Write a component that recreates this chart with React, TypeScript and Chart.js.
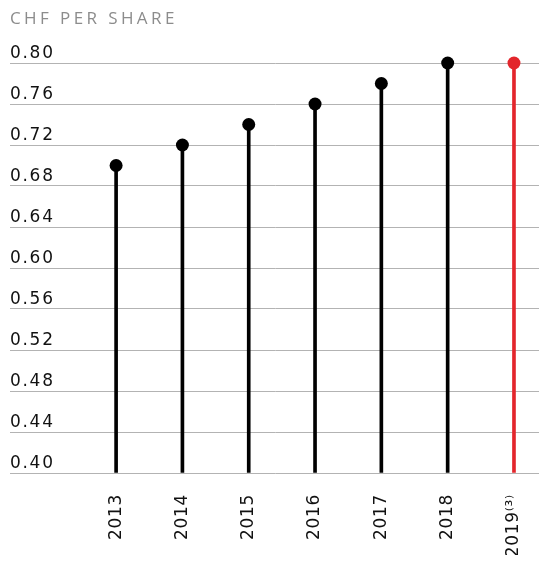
import React, { useEffect, useRef } from "react";
import { Chart, registerables } from "chart.js";

Chart.register(...registerables);

const years = ["2013", "2014", "2015", "2016", "2017", "2018", "2019⁽³⁾"];
const dividends = [0.70, 0.72, 0.74, 0.76, 0.78, 0.80, 0.80];
const yTicks = [0.40, 0.44, 0.48, 0.52, 0.56, 0.60, 0.64, 0.68, 0.72, 0.76, 0.80];
const highlighted = [false, false, false, false, false, false, true];
const titleText = "CHF PER SHARE";

const BLACK = "#000000";
const RED = "#e3262c";
const TITLE_FONT = "'Open Sans', 'DejaVu Sans', sans-serif";
const FONT = "'DejaVu Sans', 'Open Sans', sans-serif";

export default function App() {
  const ref = useRef<HTMLCanvasElement>(null);

  useEffect(() => {
    const canvas = ref.current;
    if (!canvas) return;
    const idx = years.map((_, i) => i);
    const colors = highlighted.map((h) => (h ? RED : BLACK));
    const spacing = {
      id: "letterSpacing",
      beforeLayout(c: any) {
        c.ctx.letterSpacing = "0.7px";
      },
      beforeDraw(c: any) {
        c.ctx.letterSpacing = "0.7px";
      },
      afterDraw(c: any) {
        const s = c.scales.y;
        const ctx = c.ctx;
        ctx.save();
        ctx.letterSpacing = "1.7px";
        ctx.font = `17px ${FONT}`;
        ctx.fillStyle = "#111111";
        ctx.textAlign = "left";
        ctx.textBaseline = "alphabetic";
        s.ticks.forEach((t: any) => {
          ctx.fillText(Number(t.value).toFixed(2), c.chartArea.left, s.getPixelForValue(t.value) - 5);
        });
        ctx.restore();
      },
    };
    const chart = new Chart(canvas, {
      type: "bar",
      data: {
        datasets: [
          {
            type: "line",
            data: idx.map((i) => ({ x: i, y: dividends[i] })),
            showLine: false,
            pointRadius: 6.5,
            pointHoverRadius: 6.5,
            pointBackgroundColor: colors,
            pointBorderWidth: 0,
            order: 1,
            clip: false,
          } as any,
          {
            type: "bar",
            data: idx.map((i) => ({ x: i, y: dividends[i] })),
            backgroundColor: colors,
            barThickness: 3,
            base: 0.4,
            order: 2,
          } as any,
        ],
      },
      options: {
        animation: false,
        responsive: false,
        maintainAspectRatio: false,
        layout: { padding: { left: 10, top: 63, right: 0, bottom: 0 } },
        plugins: { legend: { display: false }, tooltip: { enabled: false } },
        scales: {
          x: {
            type: "linear",
            min: -1.6,
            max: 6.4,
            offset: false,
            grid: { display: false },
            border: { display: false },
            afterBuildTicks: (s: any) => {
              s.ticks = idx.map((v) => ({ value: v }));
            },
            afterFit: (s: any) => {
              s.height = 90;
              s.paddingLeft = 0;
              s.paddingRight = 0;
            },
            ticks: {
              minRotation: 90,
              maxRotation: 90,
              autoSkip: false,
              padding: 13,
              color: "#111111",
              font: { family: FONT, size: 17 },
              callback: (v: any) => years[v as number] ?? "",
            },
          },
          y: {
            min: 0.4,
            max: 0.8,
            afterBuildTicks: (s: any) => {
              s.ticks = yTicks.map((v) => ({ value: v }));
            },
            afterFit: (s: any) => {
              s.width = 0;
              s.paddingTop = 0;
              s.paddingBottom = 0;
            },
            grid: { color: "#b3b3b3", lineWidth: 1, drawTicks: false },
            border: { display: false },
            ticks: { display: false },
          },
        },
      },
      plugins: [spacing],
    } as any);
    return () => chart.destroy();
  }, []);

  return (
    <div style={{ position: "relative", width: 547, height: 563, margin: -8 }}>
      <div
        style={{
          position: "absolute",
          left: 10,
          top: 6,
          fontFamily: TITLE_FONT,
          fontSize: 17,
          letterSpacing: "3.4px",
          color: "#8c8c8c",
          whiteSpace: "nowrap",
        }}
      >
        {titleText}
      </div>
      <canvas ref={ref} width={547} height={563} style={{ display: "block" }} />
    </div>
  );
}
